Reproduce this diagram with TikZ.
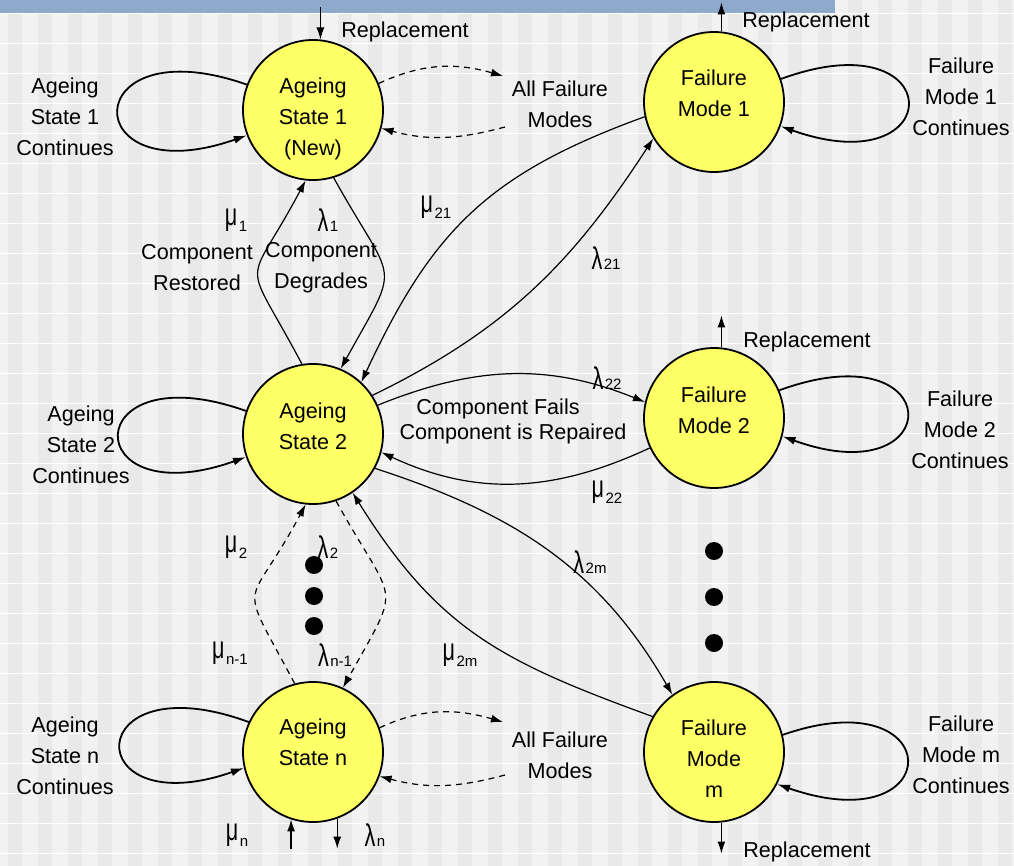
\documentclass[tikz,border=0pt]{standalone}
\usepackage{fontspec}
\setmainfont{Liberation Sans}
\usetikzlibrary{arrows.meta,calc}
\definecolor{statefill}{HTML}{FFFF66}
\definecolor{barblue}{HTML}{8DA9CC}
\definecolor{bggray}{HTML}{F2F2F2}
\definecolor{bgstripe}{HTML}{E9E9E9}
\newcommand{\ssub}[1]{\kern1.5pt{\fontsize{15}{15}\selectfont #1}}
\newcommand{\rmu}[1]{\raisebox{6.5pt}{\scalebox{1}[1.45]{μ}}\ssub{#1}}
\newcommand{\rlam}[1]{\scalebox{1}[1.45]{λ}\ssub{#1}}

\begin{document}
\begin{tikzpicture}[x=1pt, y=1pt,
  every node/.style={font=\fontsize{21.6}{31}\selectfont, align=center, inner sep=0pt},
  state/.style={draw, circle, line width=1.8pt, fill=statefill, minimum size=140pt},
  link/.style={line width=1.2pt, -{Latex[length=12pt,width=8pt]}},
  other/.style={link, dash pattern=on 6pt off 5pt},
  selfloop/.style={line width=1.8pt, -{Latex[length=13pt,width=8pt]}}]
  \useasboundingbox (0,0) rectangle (1014,-866);

  % Background
  \fill[bggray] (0,0) rectangle (1014,-866);
  \foreach \x in {0,30,...,1000}
    \fill[bgstripe] (\x+8,0) rectangle ++(14,-866);
  \foreach \y in {13,43,...,866}
    \draw[white, line width=0.8pt] (0,-\y) -- (1014,-\y);
  \fill[barblue] (0,0) rectangle (835,-13);

  % States
  \node[state] (as1) at (313,-110) {};
  \node[state] (as2) at (313,-434) {};
  \node[state] (asn) at (313,-752) {};
  \node[state] (fm1) at (714,-102) {};
  \node[state] (fm2) at (714,-418) {};
  \node[state] (fmm) at (714,-752) {};
  \node (as1txt) at (313,-119) {Ageing\\State 1\\(New)};
  \node (as2txt) at (313,-426) {Ageing\\State 2};
  \node (asntxt) at (313,-742) {Ageing\\State n};
  \node (fm1txt) at (714,-93) {Failure\\Mode 1};
  \node (fm2txt) at (714,-410) {Failure\\Mode 2};
  \node (fmmtxt) at (714,-759) {Failure\\Mode\\m};

  % Loops on each state
  \draw[selfloop] (as1.159) .. controls +(-171,60) and +(-171,-60) .. (as1.201);
  \draw[selfloop] (as2.161) .. controls +(-169,60) and +(-169,-60) .. (as2.199);
  \draw[selfloop] (asn.155) .. controls +(-169,62) and +(-166,-58) .. (asn.193);
  \draw[selfloop] (fm1.19) .. controls +(169,62) and +(169,-60) .. (fm1.-20);
  \draw[selfloop] (fm2.23) .. controls +(170,62) and +(166,-60) .. (fm2.-15);
  \draw[selfloop] (fmm.14) .. controls +(166,58) and +(172,-60) .. (fmm.-27);
  \node (as1cont) at (65,-117) {Ageing\\State 1\\Continues};
  \node (as2cont) at (81,-445) {Ageing\\State 2\\Continues};
  \node (asncont) at (65,-756) {Ageing\\State n\\Continues};
  \node (fm1cont) at (961,-97) {Failure\\Mode 1\\Continues};
  \node (fm2cont) at (960,-430) {Failure\\Mode 2\\Continues};
  \node (fmmcont) at (961,-755) {Failure\\Mode m\\Continues};

  % All failure modes
  \coordinate (af1in) at (503,-76);
  \coordinate (af1out) at (505,-127);
  \coordinate (afnin) at (503,-722);
  \coordinate (afnout) at (505,-775);
  \draw[other] (as1.22) to[out=25, in=164] (af1in);
  \draw[other] (af1out) to[out=195, in=-15] (as1.-15);
  \draw[other] (asn.20) to[out=25, in=164] (afnin);
  \draw[other] (afnout) to[out=195, in=-15] (asn.-20);
  \node (af1) at (560,-104) {All Failure\\Modes};
  \node (afn) at (560,-755) {All Failure\\Modes};

  % Replacement
  \coordinate (rep1) at ([yshift=32pt]as1.84);
  \coordinate (rep2) at ([yshift=29pt]fm1.84);
  \coordinate (rep3) at ([yshift=32pt]fm2.84);
  \coordinate (rep4) at ([yshift=-31pt]fmm.-84);
  \draw[link] (rep1) -- (as1.84);
  \draw[link] (fm1.84) -- (rep2);
  \draw[link] (fm2.84) -- (rep3);
  \draw[link] (fmm.-84) -- (rep4);
  \node (rep1lbl) at (405,-32) {Replacement};
  \node (rep2lbl) at (806,-22) {Replacement};
  \node (rep3lbl) at (807,-342) {Replacement};
  \node (rep4lbl) at (807,-852) {Replacement};

  % Ageing and repair between ageing states
  \path[link]
    (as1.-73) edge[out=-61, in=61, looseness=1.7] (as2.67)
    (as2.99) edge[out=118, in=-118, looseness=1.8] (as1.-96);
  \path[other]
    (as2.-71) edge[out=-61, in=61, looseness=1.7] (asn.65)
    (asn.105) edge[out=118, in=-118, looseness=1.8] (as2.-96);
  \foreach \y in {565,596,626}
    \fill (314,-\y) circle (9);

  % Failure and repair
  \path[link]
    (fm1.192) edge[out=200, in=65, looseness=1.1] (as2.47)
    (as2.33) edge[out=26, in=237] (fm1.211)
    (as2.24) edge[out=22, in=158] (fm2.167)
    (fm2.205) edge[out=205, in=-25] (as2.-15)
    (as2.-29) edge[out=-18, in=120] (fmm.126)
    (fmm.150) edge[out=160, in=-58, looseness=1.1] (as2.-56);
  \foreach \y in {551,597,643}
    \fill (714,-\y) circle (9);

  % Rates
  \node (mu1) at (236,-220) {\rmu{1}};
  \node (lam1) at (328,-220) {\rlam{1}};
  \node (restored) at (197,-268) {Component\\Restored};
  \node (degrades) at (321,-268) {Component\\Degrades};
  \node (mu21) at (436,-207) {\rmu{21}};
  \node (lam21) at (606,-258) {\rlam{21}};
  \node (lam22) at (607,-378) {\rlam{22}};
  \node (mu22) at (607,-492) {\rmu{22}};
  \node (fails) at (498,-409) {Component Fails};
  \node (repaired) at (513,-434) {Component is Repaired};
  \node (lam2m) at (590,-562) {\rlam{2m}};
  \node (mu2m) at (460,-655) {\rmu{2m}};
  \node (mu2) at (236,-547) {\rmu{2}};
  \node (lam2) at (328,-547) {\rlam{2}};
  \node (mun1) at (230,-653) {\rmu{n-1}};
  \node (lamn1) at (335,-655) {\rlam{n-1}};
  \node (mun) at (237,-835) {\rmu{n}};
  \node (lamn) at (375,-835) {\rlam{n}};
  \coordinate (munin) at ([yshift=-30pt]asn.-108);
  \coordinate (lamnout) at ([yshift=-30pt]asn.-70);
  \draw[link] (munin) -- (asn.-108);
  \draw[link] (asn.-70) -- (lamnout);
\end{tikzpicture}
\end{document}
